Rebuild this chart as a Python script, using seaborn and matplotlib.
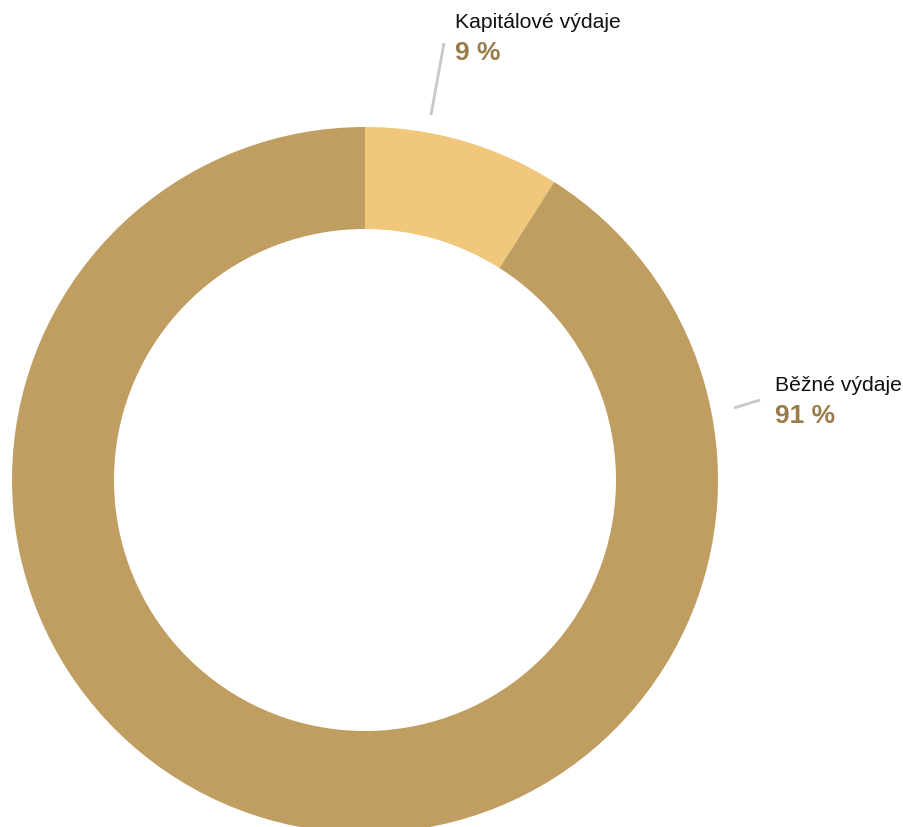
import matplotlib
matplotlib.use("Agg")
import matplotlib.pyplot as plt
import seaborn as sns

# Data
categories = ['Kapitálové výdaje', 'Běžné výdaje']
shares = [9, 91]
colors = ['#F0C77B', '#C09E62']

sns.set_theme(style="white")
plt.rcParams['font.family'] = ['Liberation Sans', 'DejaVu Sans']

W, H = 904, 827
fig = plt.figure(figsize=(W / 100, H / 100), dpi=100)
ax = fig.add_axes([0, 0, 1, 1])
ax.set_xlim(0, W)
ax.set_ylim(0, H)
ax.set_aspect('equal')
ax.axis('off')

cx, cy = 365, H - 480
r_out, r_in = 353, 251
ax.pie(shares, colors=colors, startangle=90, counterclock=False,
       center=(cx, cy), radius=r_out,
       wedgeprops=dict(width=r_out - r_in, linewidth=0))
ax.set_xlim(0, W)
ax.set_ylim(0, H)

# Labels with leader lines
labels = [
    dict(line=((431, 115), (444, 43)), xy=(455, 23)),
    dict(line=((734, 408), (760, 400)), xy=(775, 386)),
]
for cat, val, lab in zip(categories, shares, labels):
    (x0, y0), (x1, y1) = lab['line']
    ax.plot([x0, x1], [H - y0, H - y1], color='#C8C8C8', lw=2,
            solid_capstyle='butt')
    tx, ty = lab['xy']
    ax.text(tx, H - ty, cat, fontsize=15.2, color='#111111',
            ha='left', va='center')
    ax.text(tx, H - ty - 30, f'{val} %', fontsize=19, fontweight='bold',
            color='#9A7B4A', ha='left', va='center')

fig.savefig('out.png', dpi=100)
plt.close(fig)
